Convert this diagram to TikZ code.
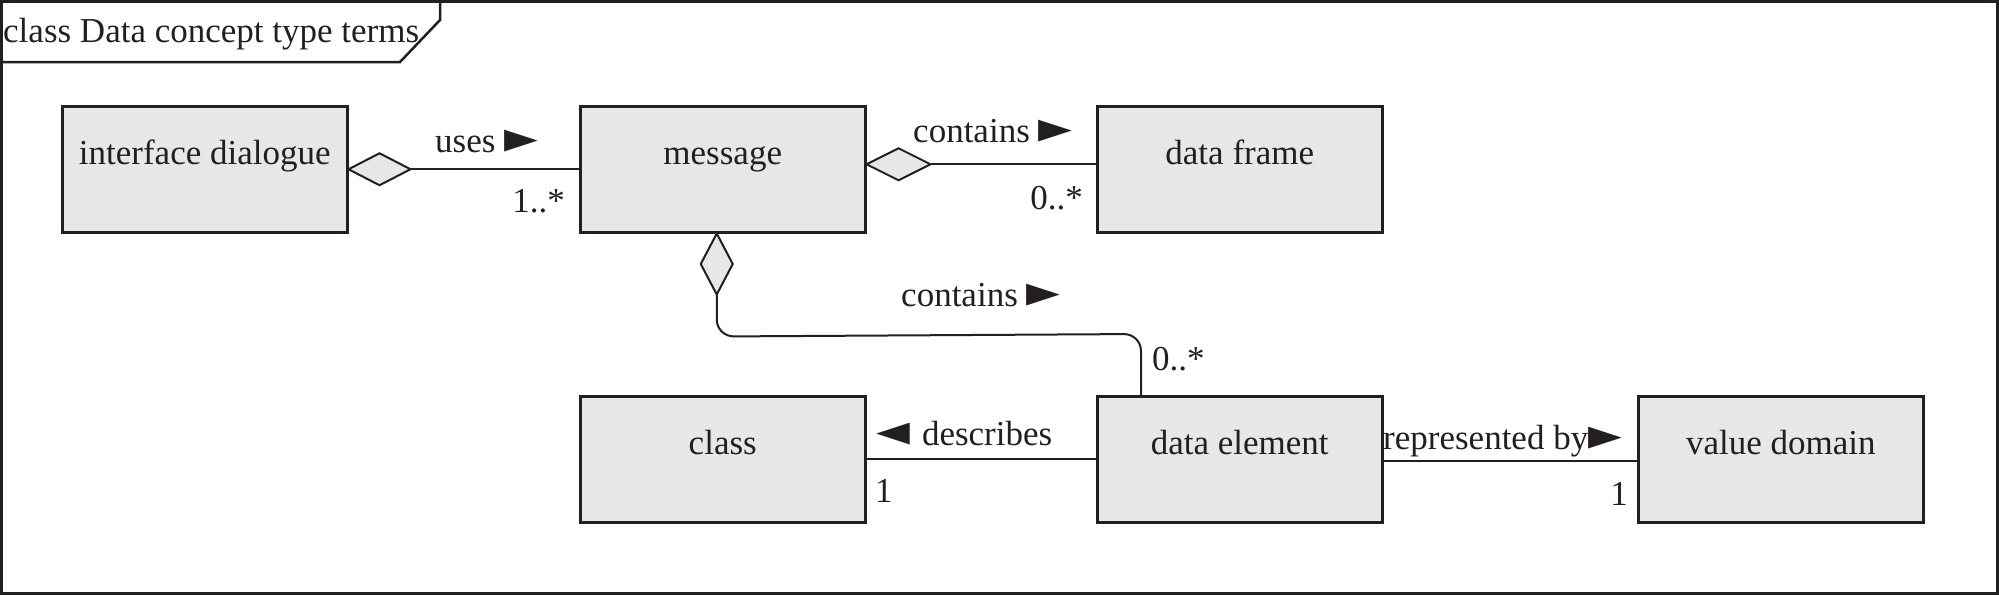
\documentclass[tikz,border=0pt]{standalone}
\usepackage{fontspec}
\setmainfont{Liberation Serif}
\newfontfamily\symfont{DejaVu Sans}
\newcommand{\rtri}{{\symfont\fontsize{44}{44}\selectfont ►}}
\newcommand{\ltri}{{\symfont\fontsize{44}{44}\selectfont ◄}}
\usetikzlibrary{calc}
\definecolor{ink}{HTML}{231F20}
\definecolor{boxfill}{HTML}{E6E7E9}
\begin{document}
\begin{tikzpicture}[x=1pt,y=-1pt,
  every node/.style={font=\fontsize{35}{40}\selectfont, text=ink, inner sep=0pt},
  umlbox/.style={draw=ink, fill=boxfill, line width=2.5pt, rectangle, anchor=north west,
    minimum width=285pt, minimum height=126pt, text height=24pt, text depth=34pt},
  conn/.style={draw=ink, line width=2pt},
  agg/.style={draw=ink, fill=boxfill, line width=2pt, line join=miter},
  lbl/.style={anchor=base west},
  lblr/.style={anchor=base east}]
\useasboundingbox (0,0) rectangle (1999,595);
% frame
\draw[ink, line width=3pt] (1.5,1.5) rectangle (1997.5,593.5);
\draw[ink, line width=2.5pt] (0,62) -- (400,62) -- (440,20) -- (440,0);
\node[lbl] (title) at (3,42) {class Data concept type terms};
% boxes
\node[umlbox] (iface) at (61,105) {interface dialogue};
\node[umlbox] (msg) at (579,105) {message};
\node[umlbox] (frame) at (1096,105) {data frame};
\node[umlbox] (cls) at (579,395) {class};
\node[umlbox] (elem) at (1096,395) {data element};
\node[umlbox] (vdom) at (1637,395) {value domain};
% uses
\coordinate (d1) at (iface.east);
\draw[agg] (d1) -- ++(31,-16) -- ++(31,16) -- ++(-31,16) -- cycle;
\draw[conn] ($(d1)+(62,0)$) -- (msg.west |- d1);
\node[lbl] (uses) at (435,152) {uses \rtri};
\node[lblr] (m1) at (565,212) {1..*};
% contains (frame)
\coordinate (d2) at ([yshift=5pt]msg.east);
\draw[agg] (d2) -- ++(32,-16) -- ++(32,16) -- ++(-32,16) -- cycle;
\draw[conn] ($(d2)+(64,0)$) -- (frame.west |- d2);
\node[lbl] (cont1) at (913,142) {contains \rtri};
\node[lblr] (m2) at (1083,209) {0..*};
% contains (data element)
\coordinate (d3) at ([xshift=-6pt]msg.south);
\draw[agg] (d3) -- ++(16,30.5) -- ++(-16,30.5) -- ++(-16,-30.5) -- cycle;
\coordinate (e3) at ([xshift=45pt]elem.north west);
\draw[conn, rounded corners=17pt] ($(d3)+(0,61)$) -- ($(d3)+(0,103)$) -- (e3 |- 0,334) -- (e3);
\node[lbl] (cont2) at (901,306) {contains \rtri};
\node[lbl] (m3) at (1152,370) {0..*};
% describes
\draw[conn] (cls.east) -- (elem.west);
\node[lbl] (desc) at (876,445) {\ltri\hspace{12pt}describes};
\node[lbl] (m4) at (875,502) {1};
% represented by
\draw[conn] ([yshift=-2pt]elem.east) -- ([yshift=-2pt]vdom.west);
\node[lbl] (repr) at (1383,449) {represented by\rtri};
\node[lblr] (m5) at (1628,505) {1};
\end{tikzpicture}
\end{document}
